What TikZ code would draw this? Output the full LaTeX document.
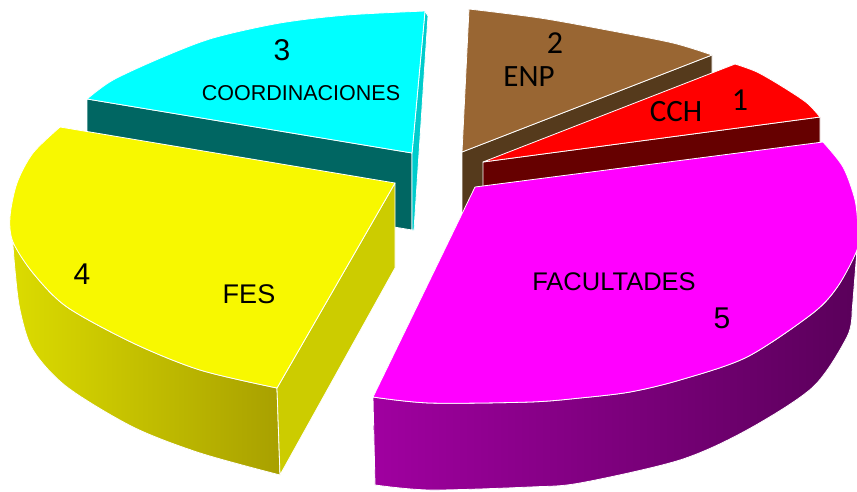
\documentclass[tikz,border=0pt]{standalone}
\usepackage{fontspec}
\setmainfont{Liberation Sans}
\newfontfamily\calfont{Carlito}

\definecolor{cyantop}{HTML}{00FFFF}
\definecolor{cyanside}{HTML}{006662}
\definecolor{cyanedge}{HTML}{00CCCC}
\definecolor{browntop}{HTML}{996633}
\definecolor{brownside}{HTML}{553A1C}
\definecolor{redtop}{HTML}{FF0000}
\definecolor{redside}{HTML}{660000}
\definecolor{yeltop}{HTML}{F8F800}
\definecolor{yelside}{HTML}{CCCC00}
\definecolor{yelleft}{HTML}{DCDC00}
\definecolor{yelright}{HTML}{A8A000}
\definecolor{magtop}{HTML}{FF00FF}
\definecolor{magleft}{HTML}{A000A0}
\definecolor{magright}{HTML}{5A005A}

\tikzset{
	face/.style={draw=white, line width=0.8pt, line join=round},
	lbl/.style={inner sep=0pt, text=black},
}

\begin{document}
\begin{tikzpicture}[x=1pt,y=-1pt]
						\useasboundingbox (0,0) rectangle (857,491);
						
						% 3 - coordinaciones
						\path[face, fill=cyanside] (87,99) -- (412,153) -- (412,230) -- (87,176) -- cycle;
						\path[face, fill=cyanedge] (425,11) -- (428,16) -- (414,230) -- (412,230) -- (412,153) -- cycle;
						\path[face, fill=cyantop] (412,153) -- plot[smooth] coordinates {(87,99) (113,80) (163,57) (213,38) (280,23) (347,15) (425,11)} -- cycle;
						
						% 2 - enp
						\path[face, fill=brownside] (462,152) -- (712,55) -- (712,125) -- (462,222) -- cycle;
						\path[face, fill=browntop] (462,152) -- plot[smooth] coordinates {(469,9) (540,18) (607,30) (673,43) (712,55)} -- cycle;
						
						% 1 - cch
						\path[face, fill=redside] (483,162) -- (820,117) -- (820,190) -- (483,235) -- cycle;
						\path[face, fill=redtop] (483,162) -- plot[smooth] coordinates {(735,64) (757,72) (783,87) (807,103) (820,117)} -- cycle;
						
						% 4 - fes
						\path[face, left color=yelleft, right color=yelright] plot[smooth] coordinates {(12,232) (13,242) (33,273) (67,307) (133,343) (200,370) (277,388)}
							-- plot[smooth] coordinates {(280,475) (200,453) (133,427) (67,387) (33,350) (20,310) (15,270) (12,232)} -- cycle;
						\path[face, fill=yelside] (395,183) -- (277,388) -- (280,475) -- (395,268) -- cycle;
						\path[face, fill=yeltop] (395,183) -- plot[smooth] coordinates {(60,127) (33,153) (17,183) (10,217) (13,242) (33,273) (67,307) (133,343) (200,370) (277,388)} -- cycle;
						
						% 5 - facultades
						\path[face, left color=magleft, right color=magright] plot[smooth] coordinates {(373,397) (430,403) (530,402) (580,398) (630,392) (680,380) (747,357) (813,313) (838,286) (857,250)}
							-- plot[smooth] coordinates {(852,313) (847,337) (813,387) (747,430) (680,460) (580,483) (530,487) (430,490) (375,485)} -- cycle;
						\path[face, fill=magtop] (475,187) -- plot[smooth] coordinates {(823,142) (843,167) (855,200) (858,230) (857,250) (838,286) (813,313) (747,357) (680,380) (630,392) (580,398) (530,402) (430,403) (373,397)} -- cycle;
						
						% labels
						\node[lbl, font=\fontsize{30}{30}\selectfont] (n3) at (282,50) {3};
						\node[lbl, font=\fontsize{21.5}{22}\selectfont] (lcoord) at (301,93) {COORDINACIONES};
						\node[lbl, font=\calfont\fontsize{32}{32}\selectfont] (n2) at (555,43) {2};
						\node[lbl, font=\calfont\fontsize{31}{31}\selectfont] (lenp) at (529,77) {ENP};
						\node[lbl, font=\calfont\fontsize{31}{31}\selectfont] (lcch) at (676,112) {CCH};
						\node[lbl, font=\calfont\fontsize{32}{32}\selectfont] (n1) at (740,100) {1};
						\node[lbl, font=\fontsize{30}{30}\selectfont] (n4) at (82,274) {4};
						\node[lbl, font=\fontsize{27}{27}\selectfont] (lfes) at (249,294) {FES};
						\node[lbl, font=\fontsize{25.5}{26}\selectfont] (lfac) at (614,282) {FACULTADES};
						\node[lbl, font=\fontsize{30}{30}\selectfont] (n5) at (722,318) {5};
					
					\end{tikzpicture}
\end{document}
